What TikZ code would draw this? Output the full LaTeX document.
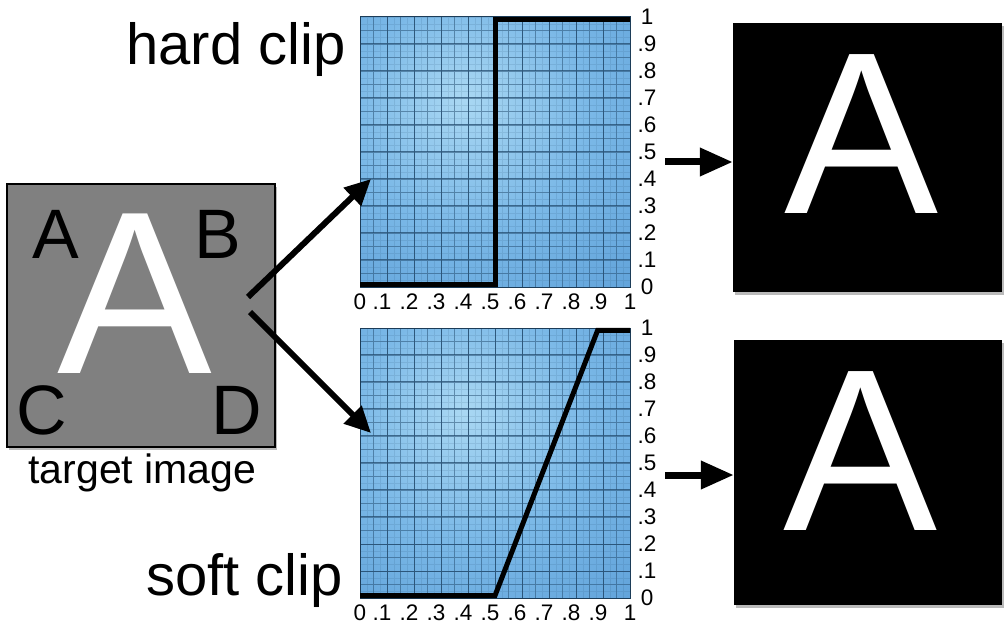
\documentclass[tikz,border=0pt]{standalone}
\usepackage{fontspec}
\setmainfont{Liberation Sans}
\usetikzlibrary{arrows.meta,shadows}
\definecolor{gA}{RGB}{170,216,243}
\definecolor{gB}{RGB}{122,184,231}
\definecolor{gC}{RGB}{76,145,207}
\definecolor{gridc}{RGB}{35,75,110}
\definecolor{tgray}{RGB}{128,128,128}
\pgfdeclareradialshading{graphshade}{\pgfpoint{-6bp}{10bp}}{color(0bp)=(gA); color(22bp)=(gB); color(58bp)=(gC); color(80bp)=(gC)}
\newcommand{\mygraph}[4]{%
\begin{scope}[shift={(#1,#2)}, x=270pt, y=270pt]
  \shade[shading=graphshade] (0,0) rectangle (1,1);
  \draw[gridfine] (0,0) grid[step=0.025] (1,1);
  \draw[gridmid] (0,0) grid[step=0.05] (1,1);
  \draw[gridmaj] (0,0) grid[step=0.1] (1,1);
  \draw[gframe] (0,0) rectangle (1,1);
  \draw[curve] #3;
  \foreach \myv/\myt/\mys [count=\myi] in {0/0/0,0.1/.1/-5,0.2/.2/-5,0.3/.3/-5,0.4/.4/-5,0.5/.5/-5,0.6/.6/-5,0.7/.7/-5,0.8/.8/-5,0.9/.9/-5,1/1/0}{
    \node[ticklbl, xshift=\mys pt] (#4x\myi) at (\myv,-0.054) {\myt};
    \node[ticklbl] (#4y\myi) at (1.063,\myv) {\myt};
  }
\end{scope}}
\begin{document}
\begin{tikzpicture}[x=1pt,y=-1pt,
  ticklbl/.style={font=\fontsize{22.5}{22.5}\selectfont, inner sep=0},
  biglbl/.style={font=\fontsize{58}{58}\selectfont, inner sep=0, anchor=base west},
  cornerlbl/.style={font=\fontsize{70}{70}\selectfont, inner sep=0, anchor=base},
  gridfine/.style={gridc, line width=0.35pt, opacity=0.13},
  gridmid/.style={gridc, line width=0.6pt, opacity=0.45},
  gridmaj/.style={gridc, line width=1pt, opacity=0.75},
  gframe/.style={draw=gridc!80!black, line width=1pt},
  curve/.style={black, line width=5pt, line join=miter},
  fatarrow/.style={line width=6pt, -{Triangle[length=26pt,width=24pt]}},
  sidearrow/.style={line width=7pt, -{Triangle[length=33pt,width=27pt]}},
  imgbox/.style={fill=black, inner sep=0, drop shadow={shadow xshift=2pt, shadow yshift=-3pt, fill=black!45, opacity=0.6}},
]
\useasboundingbox (0,0) rectangle (1004,623);

% target image
\node[draw=black, line width=1.5pt, fill=tgray, minimum width=268pt, minimum height=263pt, inner sep=0,
      drop shadow={shadow xshift=2pt, shadow yshift=-3pt, fill=black!45, opacity=0.6}] (target) at (141,315.5) {};
\node[anchor=base, inner sep=0, white, font=\fontsize{232}{232}\selectfont] (bigA) at (135,373) {A};
\node[cornerlbl] (lA) at (56,258) {A};
\node[cornerlbl] (lB) at (217.5,258) {B};
\node[cornerlbl] (lC) at (41.5,434) {C};
\node[cornerlbl] (lD) at (236.5,434) {D};
\node[anchor=base, inner sep=0, font=\fontsize{41}{41}\selectfont] (tlabel) at (142.5,483) {target image};

% labels
\node[biglbl] (hard) at (126,65) {hard clip};
\node[biglbl] (soft) at (146,595) {soft clip};

% graphs
\mygraph{360}{287}{(0,0.009)--(0.5,0.009)--(0.5,0.991)--(1,0.991)}{h}
\mygraph{360}{598}{(0,0.009)--(0.5,0.009)--(0.88,0.991)--(1,0.991)}{s}

% output images
\node[imgbox, minimum width=269pt, minimum height=269pt] (outH) at (867.5,157.5) {};
\node[anchor=base, inner sep=0, white, font=\fontsize{231}{231}\selectfont] (outHA) at (861.5,213) {A};
\node[imgbox, minimum width=268pt, minimum height=265pt] (outS) at (868,472.5) {};
\node[anchor=base, inner sep=0, white, font=\fontsize{231}{231}\selectfont] (outSA) at (860.5,530) {A};

% arrows
\coordinate (s1) at (248,297);
\coordinate (e1) at (371,179);
\coordinate (s2) at (250,312);
\coordinate (e2) at (371,433);
\draw[fatarrow] (s1) -- (e1);
\draw[fatarrow] (s2) -- (e2);
\coordinate (r1) at (665,162);
\coordinate (r2) at (665,475);
\draw[sidearrow] (r1) -- (outH.west |- r1);
\draw[sidearrow] (r2) -- (outS.west |- r2);
\end{tikzpicture}
\end{document}
